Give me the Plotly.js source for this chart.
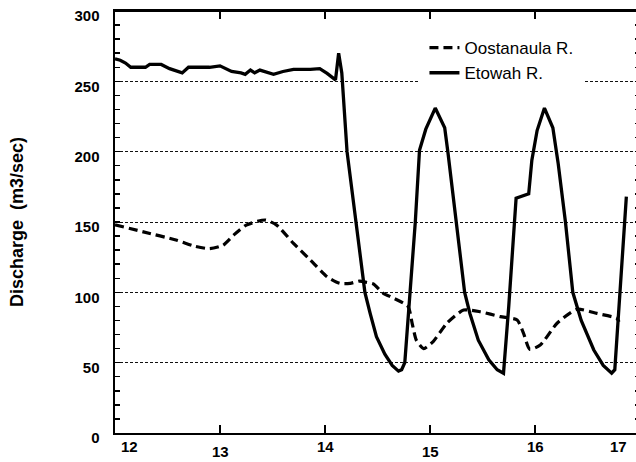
<!DOCTYPE html>
<html>
<head>
<meta charset="utf-8">
<script src="https://cdn.plot.ly/plotly-3.0.1.min.js"></script>
<style>html,body{margin:0;padding:0;background:#fff;overflow:hidden;}#chart{width:641px;height:462px;}</style>
</head>
<body>
<div id="chart"></div>
<script>
// ---- data ----
var seriesNames = ["Oostanaula R.", "Etowah R."];

var oostanaulaDay = [12.00, 12.27, 12.59, 12.75, 12.90, 13.03, 13.13, 13.25, 13.43, 13.54, 13.70, 13.86, 14.02, 14.14, 14.24, 14.33, 14.40, 14.46, 14.56, 14.62, 14.79, 14.83, 14.87, 14.94, 15.03, 15.16, 15.32, 15.48, 15.67, 15.83, 15.89, 15.95, 16.05, 16.21, 16.40, 16.59, 16.78, 16.80];
var oostanaulaQ   = [148, 143, 137, 133, 131, 133.5, 140.7, 147.8, 151.4, 147.8, 134.8, 123, 111, 106.4, 106.4, 108, 107, 106, 99, 97, 90, 78, 66, 60, 65, 78, 87.4, 86.2, 82.7, 80.3, 71, 59.5, 62.5, 78, 88, 85, 81.5, 79];

var etowahDay = [12.00, 12.05, 12.10, 12.15, 12.22, 12.29, 12.33, 12.44, 12.52, 12.60, 12.64, 12.70, 12.80, 12.90, 13.00, 13.11, 13.20, 13.24, 13.29, 13.33, 13.38, 13.51, 13.60, 13.70, 13.86, 13.95, 14.02, 14.10, 14.13, 14.16, 14.21, 14.30, 14.38, 14.43, 14.49, 14.57, 14.64, 14.70, 14.73, 14.76, 14.81, 14.86, 14.90, 14.96, 15.05, 15.14, 15.17, 15.25, 15.33, 15.38, 15.46, 15.56, 15.64, 15.70, 15.75, 15.82, 15.94, 15.97, 16.02, 16.09, 16.17, 16.22, 16.29, 16.36, 16.44, 16.56, 16.65, 16.73, 16.76, 16.87];
var etowahQ   = [266, 265, 263, 260, 260, 260, 262, 262, 259, 257, 256, 260, 260, 260, 261, 257, 256, 255, 258, 256, 258, 255, 257, 258.5, 258.5, 259, 255.6, 251, 270, 256, 200, 146, 100, 85, 68.5, 56, 48, 44, 45, 50, 100, 150, 201, 216, 231, 217, 200, 150, 100, 85, 66, 52, 45, 42.5, 90, 167, 170, 194, 215, 231, 217, 192, 150, 100, 80, 59, 48, 42.5, 45, 168];

var xTickVals   = [12, 13, 14, 15, 16, 17];
var xTickLabels = ["12", "13", "14", "15", "16", "17"];
var yTickVals   = [0, 50, 100, 150, 200, 250, 300];
var yTickLabels = ["0", "50", "100", "150", "200", "250", "300"];
var yTitle = "Discharge\u00a0\u00a0(m3/sec)";

// ---- style ----
// The original figure is cropped: the right frame (day 17) sits just past the
// 636px window, so the plot is laid out 641px wide and the window clips it.
var labelDrop = [0, 5, 0, 5, 0, 0]; // scanned labels sit unevenly
var FAMILY = "Liberation Sans, Arial, sans-serif";
var tickFont = {family: FAMILY, size: 15, color: "#000", weight: 700};

var traces = [
  {x: oostanaulaDay, y: oostanaulaQ, name: seriesNames[0], mode: "lines",
   line: {color: "#000", width: 3.2, dash: "9px,5px", shape: "spline", smoothing: 0.6}},
  {x: etowahDay, y: etowahQ, name: seriesNames[1], mode: "lines",
   line: {color: "#000", width: 3.3, shape: "linear"}},
  // empty helper so the top frame axis is laid out
  {x: [], y: [], xaxis: "x2", showlegend: false, hoverinfo: "skip", mode: "lines"}
];

var nTicks = xTickVals.length;
var annotations = xTickVals.map(function (v, i) {
  var first = i === 0, last = i === nTicks - 1;
  return {
    xref: "x", yref: "paper", x: v, y: 0,
    text: xTickLabels[i], showarrow: false,
    xanchor: first ? "left" : (last ? "right" : "center"),
    xshift: first ? 4 : (last ? -11 : 0),
    yanchor: "top", yshift: -3 - labelDrop[i],
    font: tickFont
  };
});

var layout = {
  width: 641, height: 462,
  margin: {l: 115, r: 1, t: 11, b: 29, pad: 0},
  paper_bgcolor: "#fff", plot_bgcolor: "#fff",
  font: {family: FAMILY, color: "#000"},
  showlegend: true,
  legend: {
    x: 0.578, xanchor: "left", y: 0.969, yanchor: "top",
    bgcolor: "#fff", bordercolor: "#fff", borderwidth: 6,
    font: {family: FAMILY, size: 17, color: "#000"},
    tracegroupgap: 0
  },
  xaxis: {
    range: [12, 17], tickvals: xTickVals, showticklabels: false,
    ticks: "inside", ticklen: 8, tickwidth: 1.5, tickcolor: "#000",
    showline: true, linewidth: 2, linecolor: "#000", mirror: false,
    showgrid: false, zeroline: false
  },
  xaxis2: {
    overlaying: "x", side: "top", anchor: "y", range: [12, 17],
    tickvals: xTickVals, showticklabels: false,
    ticks: "inside", ticklen: 8, tickwidth: 1.5, tickcolor: "#000",
    showline: true, linewidth: 2, linecolor: "#000",
    showgrid: false, zeroline: false
  },
  yaxis: {
    range: [0, 300], tickvals: yTickVals, ticktext: yTickLabels, tickfont: tickFont,
    ticks: "inside", ticklen: 5, tickwidth: 1.5, tickcolor: "#000",
    minor: {dtick: 10, ticks: "inside", ticklen: 5, tickwidth: 1.5, tickcolor: "#000", showgrid: false},
    ticklabelstandoff: 10, ticklabelshift: 5,
    showline: true, linewidth: 2.5, linecolor: "#000", mirror: "ticks",
    showgrid: true, gridcolor: "#111", gridwidth: 1, griddash: "3px,2px",
    zeroline: false,
    title: {text: yTitle, font: {family: FAMILY, size: 18, color: "#000", weight: 700}, standoff: 46}
  },
  shapes: [
    {type: "line", xref: "paper", yref: "paper", x0: 0, x1: 1, y0: 1, y1: 1,
     line: {color: "#000", width: 2}, layer: "above"}
  ],
  annotations: annotations
};

Plotly.newPlot("chart", traces, layout, {staticPlot: true, displayModeBar: false});
</script>
</body>
</html>
